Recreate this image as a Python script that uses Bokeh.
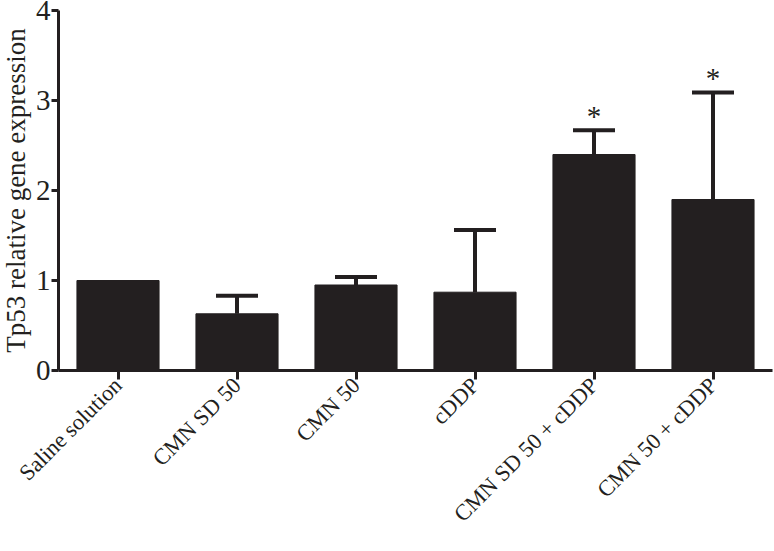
import math
from bokeh.plotting import figure
from bokeh.models import (FactorRange, Range1d, Whisker, ColumnDataSource,
                          FixedTicker, TeeHead)
from bokeh.core.properties import value
from bokeh.embed import file_html
from bokeh.resources import INLINE

# ---- data ----
categories = ["Saline solution", "CMN SD 50", "CMN 50", "cDDP",
              "CMN SD 50 + cDDP", "CMN 50 + cDDP"]
means = [1.00, 0.63, 0.95, 0.87, 2.40, 1.90]
upper = [1.00, 0.83, 1.04, 1.56, 2.67, 3.09]
stars = ["", "", "", "", "*", "*"]
y_ticks = [0, 1, 2, 3, 4]
y_title = "Tp53 relative gene expression"

FONT = "Liberation Serif"
INK = "#231f20"
FS = "29px"
XFS = "22.5px"

# the y-axis panel is a little wider than the original's margin; the figure
# is nudged 3px left so that the plotting frame starts where the original's does
p = figure(x_range=FactorRange(*categories, range_padding=0),
           y_range=Range1d(0, 4),
           width=777, height=551,
           output_backend="svg", toolbar_location=None,
           min_border_left=57, min_border_right=2,
           min_border_top=10, min_border_bottom=181,
           styles={"margin-left": "-3px"})
p.outline_line_color = None
p.grid.visible = False

bars = ColumnDataSource(dict(x=categories, top=means))
p.vbar(x="x", top="top", width=0.69, source=bars,
       fill_color=INK, line_color=INK)

eb_x = [c for c, m, u in zip(categories, means, upper) if u > m]
eb_lo = [m for m, u in zip(means, upper) if u > m]
eb_hi = [u for m, u in zip(means, upper) if u > m]
err = ColumnDataSource(dict(x=eb_x, lower=eb_lo, upper=eb_hi))
w = Whisker(base="x", lower="lower", upper="upper", source=err,
            line_color=INK, line_width=4, lower_head=None,
            upper_head=TeeHead(size=42, line_color=INK, line_width=4),
            level="overlay")
p.add_layout(w)

st = ColumnDataSource(dict(x=categories, y=upper, t=stars))
p.text(x="x", y="y", text="t", source=st, text_font=value(FONT),
       text_font_size=FS, text_color=INK, text_align="center",
       text_baseline="alphabetic", y_offset=-14)

ya = p.yaxis[0]
ya.ticker = FixedTicker(ticks=y_ticks)
ya.minor_tick_line_color = None
ya.major_tick_in = 0
ya.major_tick_out = 7
ya.major_tick_line_width = 3
ya.major_tick_line_color = INK
ya.axis_line_width = 3
ya.axis_line_color = INK
ya.major_label_text_font = FONT
ya.major_label_text_font_size = FS
ya.major_label_text_color = INK
ya.major_label_standoff = 1
ya.axis_label = y_title
ya.axis_label_text_font = FONT
ya.axis_label_text_font_size = "27px"
ya.axis_label_text_font_style = "normal"
ya.axis_label_text_color = INK
ya.axis_label_standoff = 2

xa = p.xaxis[0]
xa.axis_line_width = 3
xa.axis_line_color = INK
xa.major_tick_in = 0
xa.major_tick_out = 9
xa.major_tick_line_width = 3
xa.major_tick_line_color = INK
xa.major_label_text_font = FONT
xa.major_label_text_font_size = XFS
xa.major_label_text_color = INK
xa.major_label_orientation = math.pi / 4
xa.major_label_standoff = 2

open("out.html", "w").write(file_html(p, INLINE))
